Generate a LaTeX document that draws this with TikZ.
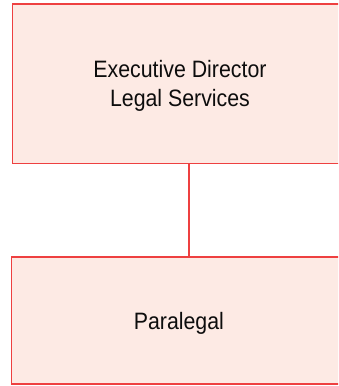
\documentclass[tikz,border=0pt]{standalone}
\usepackage{fontspec}
\setmainfont{Liberation Sans}[FakeStretch=0.9]
\definecolor{boxfill}{RGB}{253,234,228}
\definecolor{boxline}{RGB}{238,64,64}
\tikzset{
  orgbox/.style={draw=boxline, fill=boxfill, line width=1.2pt, rectangle,
    align=center, text depth=0pt, inner sep=0pt, text=black!95,
    font=\fontsize{23.7pt}{29pt}\selectfont},
  conn/.style={draw=boxline, line width=1.2pt}
}
\begin{document}
\begin{tikzpicture}
\useasboundingbox (0,0) rectangle (338pt,386pt);
\fill[white] (0,0) rectangle (338pt,386pt);
\clip (0,0) rectangle (338pt,386pt);
\node[orgbox, minimum width=335.4pt, minimum height=159.3pt] (exec) at (180pt,302.35pt) {Executive Director\\Legal Services};
\node[orgbox, minimum width=335.2pt, minimum height=127pt] (para) at (178.9pt,65.5pt) {Paralegal};
\draw[conn] ([xshift=9pt]exec.south) -- ([xshift=9pt]exec.south |- para.north);
\end{tikzpicture}
\end{document}
